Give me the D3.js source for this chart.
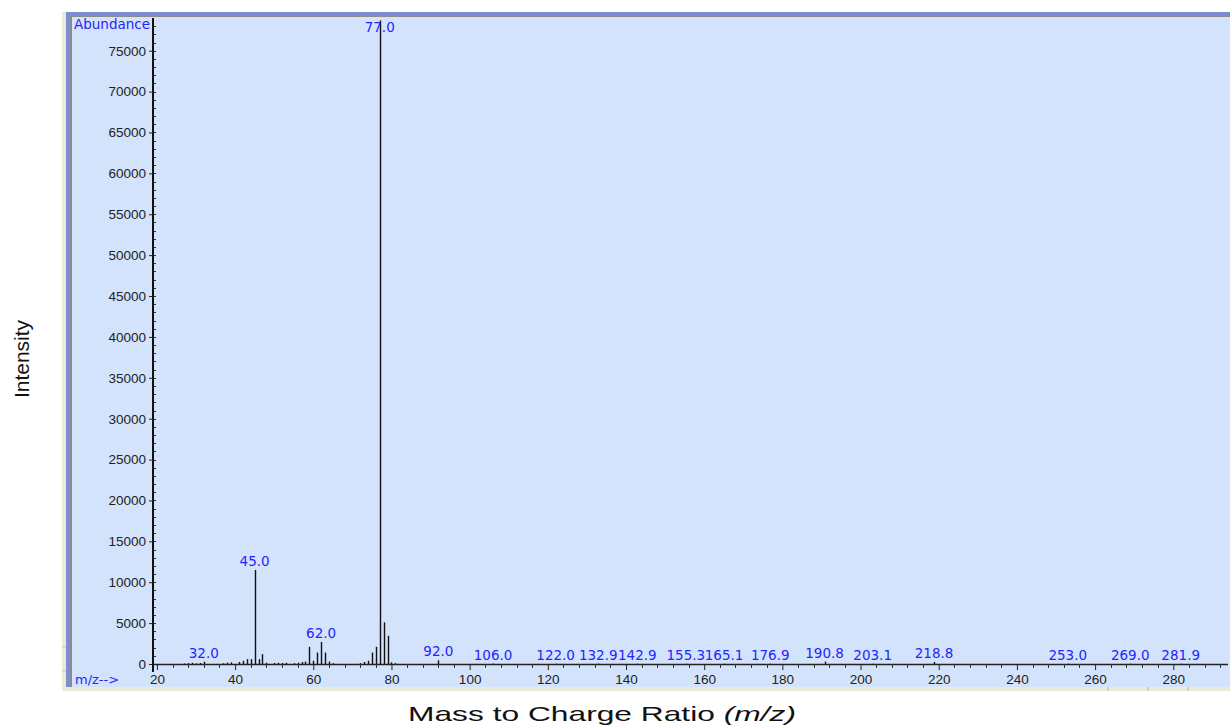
<!DOCTYPE html>
<html>
<head>
<meta charset="utf-8">
<script src="https://cdn.jsdelivr.net/npm/d3@7"></script>
<style>
  body { margin: 0; background: #fff; }
  svg { display: block; font-family: "DejaVu Sans", Verdana, sans-serif; }
  .tick text { fill: #222; font-size: 13.5px; }
  .peak-label { fill: #2424ff; font-size: 13.5px; text-anchor: middle; }
  .title { font-family: "Liberation Sans", Arial, sans-serif; fill: #111; }
</style>
</head>
<body>
<svg></svg>
<script>
// m/z and abundance of every line in the spectrum
const mz = [27, 28, 29, 30, 31, 32, 37, 38, 39, 41, 42, 43, 44, 45, 46, 47, 48, 50, 51, 52, 53, 55, 56, 57, 58,
  59, 60, 61, 62, 63, 64, 65, 72, 73, 74, 75, 76, 77, 78, 79, 80, 81, 92, 106, 122, 132.9, 142.9,
  155.3, 165.1, 176.9, 190.8, 203.1, 218.8, 253, 269, 281.9];
const abundance = [60, 100, 150, 80, 120, 280, 80, 150, 200, 250, 400, 600, 600, 11500, 600, 1200, 150, 120, 150, 120, 150, 100, 150, 250, 300,
  2100, 400, 1400, 2700, 1400, 300, 100, 100, 250, 400, 1400, 2100, 78700, 5100, 3450, 200, 100, 450, 50, 50, 40, 40,
  40, 40, 40, 300, 40, 250, 40, 40, 40];

// labelled peaks
const labelMz = [32, 45, 62, 77, 92, 106, 122, 132.9, 142.9, 155.3, 165.1, 176.9, 190.8, 203.1, 218.8, 253, 269, 281.9];
const labelText = ['32.0', '45.0', '62.0', '77.0', '92.0', '106.0', '122.0', '132.9', '142.9', '155.3', '165.1',
  '176.9', '190.8', '203.1', '218.8', '253.0', '269.0', '281.9'];

const yTicks = [0, 5000, 10000, 15000, 20000, 25000, 30000, 35000, 40000, 45000, 50000, 55000, 60000, 65000, 70000, 75000];
const xTicks = [20, 40, 60, 80, 100, 120, 140, 160, 180, 200, 220, 240, 260, 280];

const width = 1230;
const height = 727;
const svg = d3.select('svg').attr('width', width).attr('height', height);

const x = d3.scaleLinear().domain([19, 294]).range([153, 1228]);
const y = d3.scaleLinear().domain([0, 79000]).range([664, 18]);

// window frame
svg.append('rect').attr('x', 62).attr('y', 12).attr('width', 6).attr('height', 678).attr('fill', '#ece9d8');
svg.append('rect').attr('x', 66).attr('y', 12).attr('width', width - 66).attr('height', 676).attr('fill', '#7a8ed6');
svg.append('rect').attr('x', 70).attr('y', 15).attr('width', width - 70).attr('height', 673).attr('fill', '#8c8c8c');
svg.append('rect').attr('x', 72).attr('y', 17).attr('width', width - 72).attr('height', 670).attr('fill', '#d3e3fb');
svg.append('rect').attr('x', 62).attr('y', 687).attr('width', width - 62).attr('height', 4).attr('fill', '#ece9d8');
[1108, 1148, 1188].forEach(function(bx) {
  svg.append('line').attr('x1', bx).attr('x2', bx).attr('y1', 687).attr('y2', 691).attr('stroke', '#b8b4a4');
});
svg.append('line').attr('x1', 62).attr('x2', 66).attr('y1', 647).attr('y2', 647).attr('stroke', '#cfcbbb');
svg.append('line').attr('x1', 62).attr('x2', 66).attr('y1', 671).attr('y2', 671).attr('stroke', '#cfcbbb');

// y axis
const yAxis = svg.append('g')
    .attr('transform', 'translate(153,0)')
    .call(d3.axisLeft(y).tickValues(yTicks).tickSize(4).tickPadding(3).tickFormat(d3.format('d')));
yAxis.select('.domain').remove();
yAxis.selectAll('.tick line').attr('stroke', '#222');
svg.append('line').attr('x1', 153).attr('x2', 153).attr('y1', 18).attr('y2', 672)
    .attr('stroke', '#111').attr('stroke-width', 2);
svg.append('g').selectAll('line')
    .data(d3.range(1000, 79000, 1000))
    .enter().append('line')
    .attr('x1', 154).attr('x2', 156)
    .attr('y1', function(d) { return Math.round(y(d)) + 0.5; })
    .attr('y2', function(d) { return Math.round(y(d)) + 0.5; })
    .attr('stroke', '#333');

// x axis
const xAxis = svg.append('g')
    .attr('transform', 'translate(0,664)')
    .call(d3.axisBottom(x).tickValues(xTicks).tickSize(6).tickPadding(4).tickFormat(d3.format('d')));
xAxis.select('.domain').remove();
xAxis.selectAll('.tick line').attr('stroke', '#222');
svg.append('line').attr('x1', 153).attr('x2', 1228).attr('y1', 664.5).attr('y2', 664.5)
    .attr('stroke', '#222').attr('stroke-width', 1.5);
svg.append('g').selectAll('line')
    .data(d3.range(24, 294, 4).filter(function(d) { return d % 20 !== 0; }))
    .enter().append('line')
    .attr('x1', function(d) { return Math.round(x(d)) + 0.5; })
    .attr('x2', function(d) { return Math.round(x(d)) + 0.5; })
    .attr('y1', 664).attr('y2', 668)
    .attr('stroke', '#333');

// spectrum lines
svg.append('g').selectAll('line')
    .data(mz)
    .enter().append('line')
    .attr('x1', function(d) { return Math.round(x(d)) + 0.5; })
    .attr('x2', function(d) { return Math.round(x(d)) + 0.5; })
    .attr('y1', 664)
    .attr('y2', function(d, i) { return y(abundance[i]); })
    .attr('stroke', '#111')
    .attr('stroke-width', 1.4);

// peak labels
svg.append('g').selectAll('text')
    .data(labelMz)
    .enter().append('text')
    .attr('class', 'peak-label')
    .attr('x', function(d) { return x(d); })
    .attr('y', function(d) {
      const v = abundance[mz.indexOf(d)];
      return Math.max(y(v) - 4, 32);
    })
    .text(function(d, i) { return labelText[i]; });

svg.append('text').attr('x', 74).attr('y', 29).attr('fill', '#2424ff')
    .style('font-size', '13.5px').text('Abundance');
svg.append('text').attr('x', 75).attr('y', 684).attr('fill', '#2424ff')
    .style('font-size', '13px').text('m/z-->');

// outer titles
svg.append('text')
    .attr('class', 'title')
    .attr('transform', 'translate(29,359) rotate(-90)')
    .attr('text-anchor', 'middle')
    .style('font-size', '21px')
    .text('Intensity');

const xt = svg.append('text')
    .attr('class', 'title')
    .attr('x', 408).attr('y', 721)
    .attr('textLength', 388)
    .attr('lengthAdjust', 'spacingAndGlyphs')
    .style('font-size', '21px');
xt.append('tspan').text('Mass to Charge Ratio ');
xt.append('tspan').style('font-style', 'italic').text('(m/z)');
</script>
</body>
</html>
